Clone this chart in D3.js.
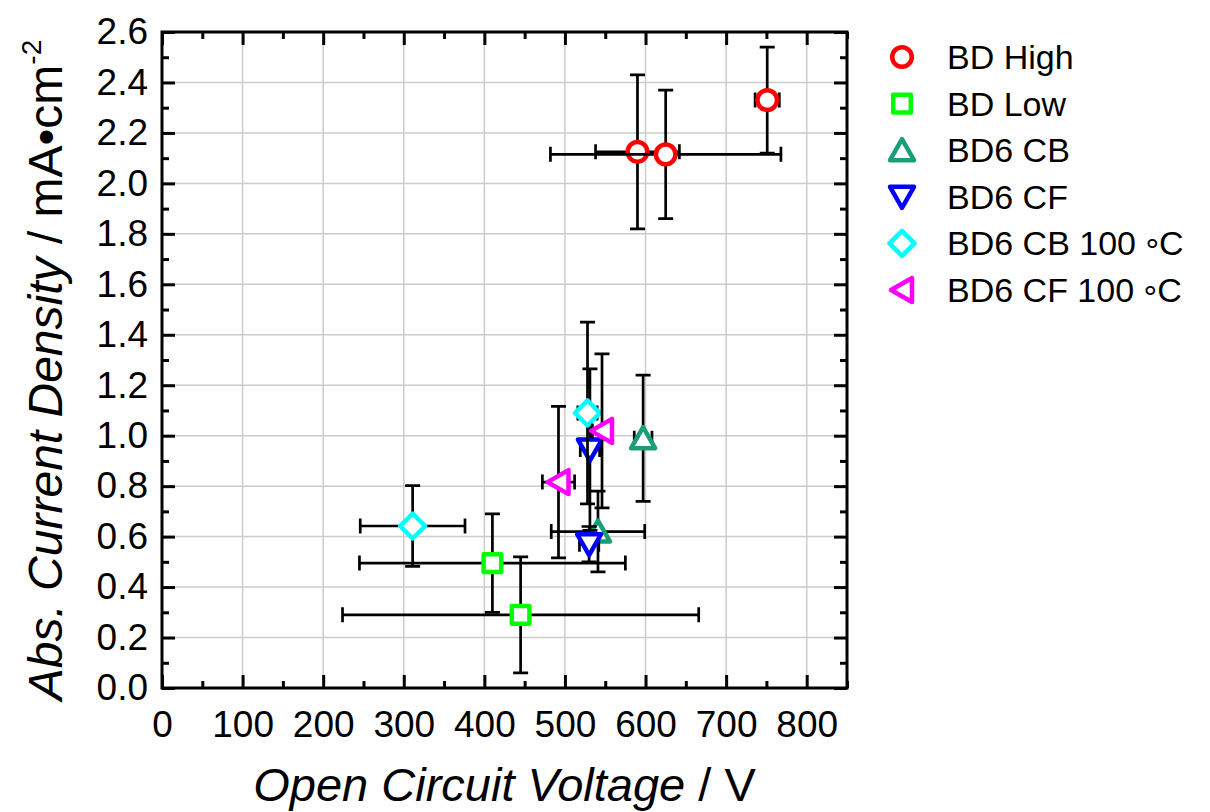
<!DOCTYPE html>
<html>
<head>
  <meta charset="utf-8">
  <title>Abs. Current Density vs Open Circuit Voltage</title>
  <script src="https://d3js.org/d3.v7.min.js"></script>
  <style>
    html, body {
      margin: 0;
      padding: 0;
      background: #fff;
      overflow: hidden;
    }
    svg {
      display: block;
      font-family: "Liberation Sans", Arial, sans-serif;
    }
    .grid line {
      stroke: #cccccc;
      stroke-width: 1.5;
    }
    .tick line {
      stroke: #000;
      stroke-width: 3;
    }
    .tick text {
      font-size: 37px;
      fill: #000;
    }
    .errbar {
      stroke: #000;
      stroke-width: 2.7;
      fill: none;
    }
    .marker {
      fill: #fff;
      stroke-width: 4.5;
      stroke-linejoin: round;
    }
  </style>
</head>
<body>
  <svg width="1210" height="812"></svg>
  <script>
    // series, in drawing order
    const seriesNames = ["BD High", "BD Low", "BD6 CB", "BD6 CF", "BD6 CB 100 °C", "BD6 CF 100 °C"];
    const seriesColors = ["#ff0000", "#00ff00", "#1b9e77", "#0000ff", "#00ffff", "#ff00ff"];
    const seriesShapes = ["circle", "square", "up", "down", "diamond", "left"];

    // open circuit voltage (V)
    const bdHighX = [590, 625, 751];
    const bdLowX = [410, 445];
    const bd6CbX = [597, 541];
    const bd6CfX = [531, 530];
    const bd6Cb100X = [311, 528];
    const bd6Cf100X = [492, 546];

    // abs. current density (mA/cm2)
    const bdHighY = [2.125, 2.115, 2.33];
    const bdLowY = [0.495, 0.29];
    const bd6CbY = [0.99, 0.62];
    const bd6CfY = [0.945, 0.57];
    const bd6Cb100Y = [0.642, 1.09];
    const bd6Cf100Y = [0.816, 1.019];

    // x error (V)
    const bdHighXErr = [52, 143, 15];
    const bdLowXErr = [165, 221];
    const bd6CbXErr = [11, 58];
    const bd6CfXErr = [12, 12];
    const bd6Cb100XErr = [65, 12];
    const bd6Cf100XErr = [20, 12];

    // y error (mA/cm2)
    const bdHighYErr = [0.305, 0.255, 0.21];
    const bdLowYErr = [0.195, 0.23];
    const bd6CbYErr = [0.25, 0.16];
    const bd6CfYErr = [0.32, 0.07];
    const bd6Cb100YErr = [0.16, 0.36];
    const bd6Cf100YErr = [0.30, 0.305];

    const xTicks = [0, 100, 200, 300, 400, 500, 600, 700, 800];
    const yTicks = [0, 0.2, 0.4, 0.6, 0.8, 1.0, 1.2, 1.4, 1.6, 1.8, 2.0, 2.2, 2.4, 2.6];
    const xMinor = [50, 150, 250, 350, 450, 550, 650, 750, 850];
    const yMinor = [0.1, 0.3, 0.5, 0.7, 0.9, 1.1, 1.3, 1.5, 1.7, 1.9, 2.1, 2.3, 2.5];

    const allX = [bdHighX, bdLowX, bd6CbX, bd6CfX, bd6Cb100X, bd6Cf100X];
    const allY = [bdHighY, bdLowY, bd6CbY, bd6CfY, bd6Cb100Y, bd6Cf100Y];
    const allXErr = [bdHighXErr, bdLowXErr, bd6CbXErr, bd6CfXErr, bd6Cb100XErr, bd6Cf100XErr];
    const allYErr = [bdHighYErr, bdLowYErr, bd6CbYErr, bd6CfYErr, bd6Cb100YErr, bd6Cf100YErr];

    const series = seriesNames.map((name, i) => ({
      name: name,
      color: seriesColors[i],
      shape: seriesShapes[i],
      points: allX[i].map((x, j) => ({ x: x, y: allY[i][j], ex: allXErr[i][j], ey: allYErr[i][j] }))
    }));

    // plot frame
    const plotLeft = 162, plotRight = 847, plotTop = 32, plotBottom = 688;
    const x = d3.scaleLinear().domain([0, 850]).range([plotLeft, plotRight]);
    const y = d3.scaleLinear().domain([0, 2.6]).range([plotBottom, plotTop]);

    const svg = d3.select("svg");

    // gridlines
    const grid = svg.append("g").attr("class", "grid");
    grid.selectAll("line.v")
      .data(xTicks.filter(d => d > 0))
      .enter().append("line")
      .attr("x1", d => x(d)).attr("x2", d => x(d))
      .attr("y1", plotTop).attr("y2", plotBottom);
    grid.selectAll("line.h")
      .data(yTicks.filter(d => d > 0 && d < 2.6))
      .enter().append("line")
      .attr("x1", plotLeft).attr("x2", plotRight)
      .attr("y1", d => y(d)).attr("y2", d => y(d));

    // axes, ticks pointing inward on all four sides
    function addAxis(axis, tx, ty) {
      const g = svg.append("g").attr("transform", `translate(${tx},${ty})`).call(axis);
      g.select(".domain").remove();
      g.attr("font-family", null).attr("font-size", null);
      return g;
    }
    addAxis(d3.axisBottom(x).tickValues(xTicks).tickSize(-13).tickPadding(23).tickFormat(d3.format("d")), 0, plotBottom);
    addAxis(d3.axisBottom(x).tickValues(xMinor).tickSize(-7).tickFormat(""), 0, plotBottom);
    addAxis(d3.axisTop(x).tickValues(xTicks).tickSize(-13).tickFormat(""), 0, plotTop);
    addAxis(d3.axisTop(x).tickValues(xMinor).tickSize(-7).tickFormat(""), 0, plotTop);
    addAxis(d3.axisLeft(y).tickValues(yTicks).tickSize(-13).tickPadding(14).tickFormat(d3.format(".1f")), plotLeft, 0);
    addAxis(d3.axisLeft(y).tickValues(yMinor).tickSize(-7).tickFormat(""), plotLeft, 0);
    addAxis(d3.axisRight(y).tickValues(yTicks).tickSize(-13).tickFormat(""), plotRight, 0);
    addAxis(d3.axisRight(y).tickValues(yMinor).tickSize(-7).tickFormat(""), plotRight, 0);

    svg.append("rect")
      .attr("x", plotLeft).attr("y", plotTop)
      .attr("width", plotRight - plotLeft).attr("height", plotBottom - plotTop)
      .attr("fill", "none").attr("stroke", "#000").attr("stroke-width", 3);

    // marker shapes
    function shapePath(shape) {
      switch (shape) {
        case "circle": return "M9.8,0A9.8,9.8 0 1,1 -9.8,0A9.8,9.8 0 1,1 9.8,0Z";
        case "square": return "M-8.8,-8.8H8.8V8.8H-8.8Z";
        case "up": return "M0,-11L12,10H-12Z";
        case "down": return "M0,11L12,-10H-12Z";
        case "diamond": return "M0,-12.5L12.5,0L0,12.5L-12.5,0Z";
        case "left": return "M-11,0L10,-12V12Z";
      }
    }

    // error bars then markers, series by series
    const cap = 7.5;
    series.forEach(s => {
      const g = svg.append("g");
      s.points.forEach(p => {
        const cx = x(p.x), cy = y(p.y);
        const x0 = x(p.x - p.ex), x1 = x(p.x + p.ex);
        const y0 = y(p.y - p.ey), y1 = y(p.y + p.ey);
        const d = `M${x0},${cy}H${x1}M${x0},${cy - cap}V${cy + cap}M${x1},${cy - cap}V${cy + cap}` +
          `M${cx},${y0}V${y1}M${cx - cap},${y0}H${cx + cap}M${cx - cap},${y1}H${cx + cap}`;
        g.append("path").attr("class", "errbar").attr("d", d);
        g.append("path").attr("class", "marker")
          .attr("d", shapePath(s.shape))
          .attr("stroke", s.color)
          .attr("transform", `translate(${cx},${cy})`);
      });
    });

    // legend
    const legend = svg.append("g").attr("transform", "translate(902,57)");
    const rows = legend.selectAll("g")
      .data(series)
      .enter().append("g")
      .attr("transform", (d, i) => `translate(0,${i * 46.6})`);
    rows.append("path").attr("class", "marker")
      .attr("d", d => shapePath(d.shape))
      .attr("stroke", d => d.color);
    const labels = rows.append("text")
      .attr("x", 45).attr("dy", "0.35em")
      .style("font-size", "34px");
    // the degree ring sits lower, as in the original
    labels.each(function (d) {
      const t = d3.select(this);
      const k = d.name.indexOf("°");
      if (k < 0) { t.text(d.name); return; }
      t.append("tspan").text(d.name.slice(0, k));
      t.append("tspan").attr("dy", "0.2em").text("°");
      t.append("tspan").attr("dy", "-0.2em").text(d.name.slice(k + 1));
    });

    // axis titles
    const xTitle = svg.append("text")
      .attr("x", (plotLeft + plotRight) / 2).attr("y", 801)
      .attr("text-anchor", "middle")
      .style("font-size", "47px");
    xTitle.append("tspan").style("font-style", "italic").text("Open Circuit Voltage");
    xTitle.append("tspan").text(" / V");

    const yTitle = svg.append("text")
      .attr("transform", "translate(62,370) rotate(-90)")
      .attr("text-anchor", "middle")
      .style("font-size", "48px");
    yTitle.append("tspan").style("font-style", "italic").text("Abs. Current Density");
    yTitle.append("tspan").text(" / mA\u2022cm");
    yTitle.append("tspan").attr("dy", "-0.75em").style("font-size", "28px").text("-2");
  </script>
</body>
</html>
